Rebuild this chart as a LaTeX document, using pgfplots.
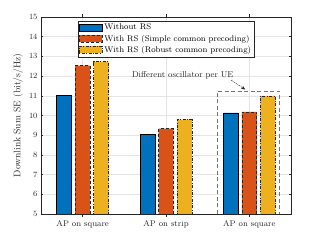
\documentclass[border=0pt]{standalone}
\usepackage{pgfplots}
\pgfplotsset{compat=1.18}
\usetikzlibrary{arrows.meta}
\definecolor{mblue}{rgb}{0,0.447,0.741}
\definecolor{morange}{rgb}{0.85,0.325,0.098}
\definecolor{myellow}{rgb}{0.929,0.694,0.125}
\definecolor{axgray}{rgb}{0.15,0.15,0.15}
\newcommand{\fs}{\fontsize{8.3}{10}\selectfont}
\begin{document}
\begin{tikzpicture}[font=\fs]
\begin{axis}[
  scale only axis, width=250bp, height=197bp,
  xmin=0.5, xmax=3.5, ymin=5, ymax=15,
  xtick={1,2,3}, xticklabels={AP on square, AP on strip, AP on square},
  ytick={5,6,...,15},
  tick align=inside, major tick length=2.5bp,
  grid=major, grid style={black!10, line width=0.4pt},
  axis line style={axgray, line width=0.5pt},
  tick style={axgray, line width=0.5pt},
  ticklabel style={font=\fs, text=axgray},
  xticklabel style={yshift=-1bp},
  ylabel={Downlink Sum SE (bit/s/Hz)},
  ylabel style={at={(axis description cs:-0.092,0.5)}, anchor=center, font=\fontsize{9.6}{11}\selectfont, text=axgray},
  ybar, bar width=0.178,
  legend style={at={(axis description cs:0.5,0.98)}, anchor=north, draw=axgray, font=\fs,
    inner sep=1pt, row sep=-0.5pt, cells={anchor=west}, text=black},
  legend image code/.code={\draw[#1] (0bp,-3.5bp) rectangle (23bp,3.5bp);},
]
\addplot[bar shift=-0.2222, fill=mblue, draw=black, line width=0.6pt]
  coordinates {(1,11.00) (2,9.04) (3,10.13)};
\addplot[bar shift=0, fill=morange, draw=black!85, line width=0.6pt, dash pattern=on 3bp off 2bp]
  coordinates {(1,12.53) (2,9.33) (3,10.18)};
\addplot[bar shift=0.2222, fill=myellow, draw=black!85, line width=0.6pt, dash pattern=on 3bp off 1.5bp on 0.8bp off 1.5bp]
  coordinates {(1,12.73) (2,9.79) (3,10.99)};
\legend{Without RS, With RS (Simple common precoding), With RS (Robust common precoding)}
\draw[black!55, line width=0.6pt, dash pattern=on 4bp off 2.5bp]
  (axis cs:2.62,5) -- (axis cs:2.62,11.25) -- (axis cs:3.36,11.25) -- (axis cs:3.36,5);
\node[font=\fontsize{8.5}{10}\selectfont, text=black!85] at (axis cs:2.20,12.06) {Different oscillator per UE};
\draw[-{Stealth[length=4bp,width=3.5bp]}, black!85, line width=0.4pt, dash pattern=on 2bp off 1bp]
  (axis cs:2.78,11.8) -- (axis cs:2.95,11.32);
\end{axis}
\path ([shift={(-41bp,-27bp)}]current axis.south west) rectangle ([shift={(30bp,17bp)}]current axis.north east);
\end{tikzpicture}
\end{document}
